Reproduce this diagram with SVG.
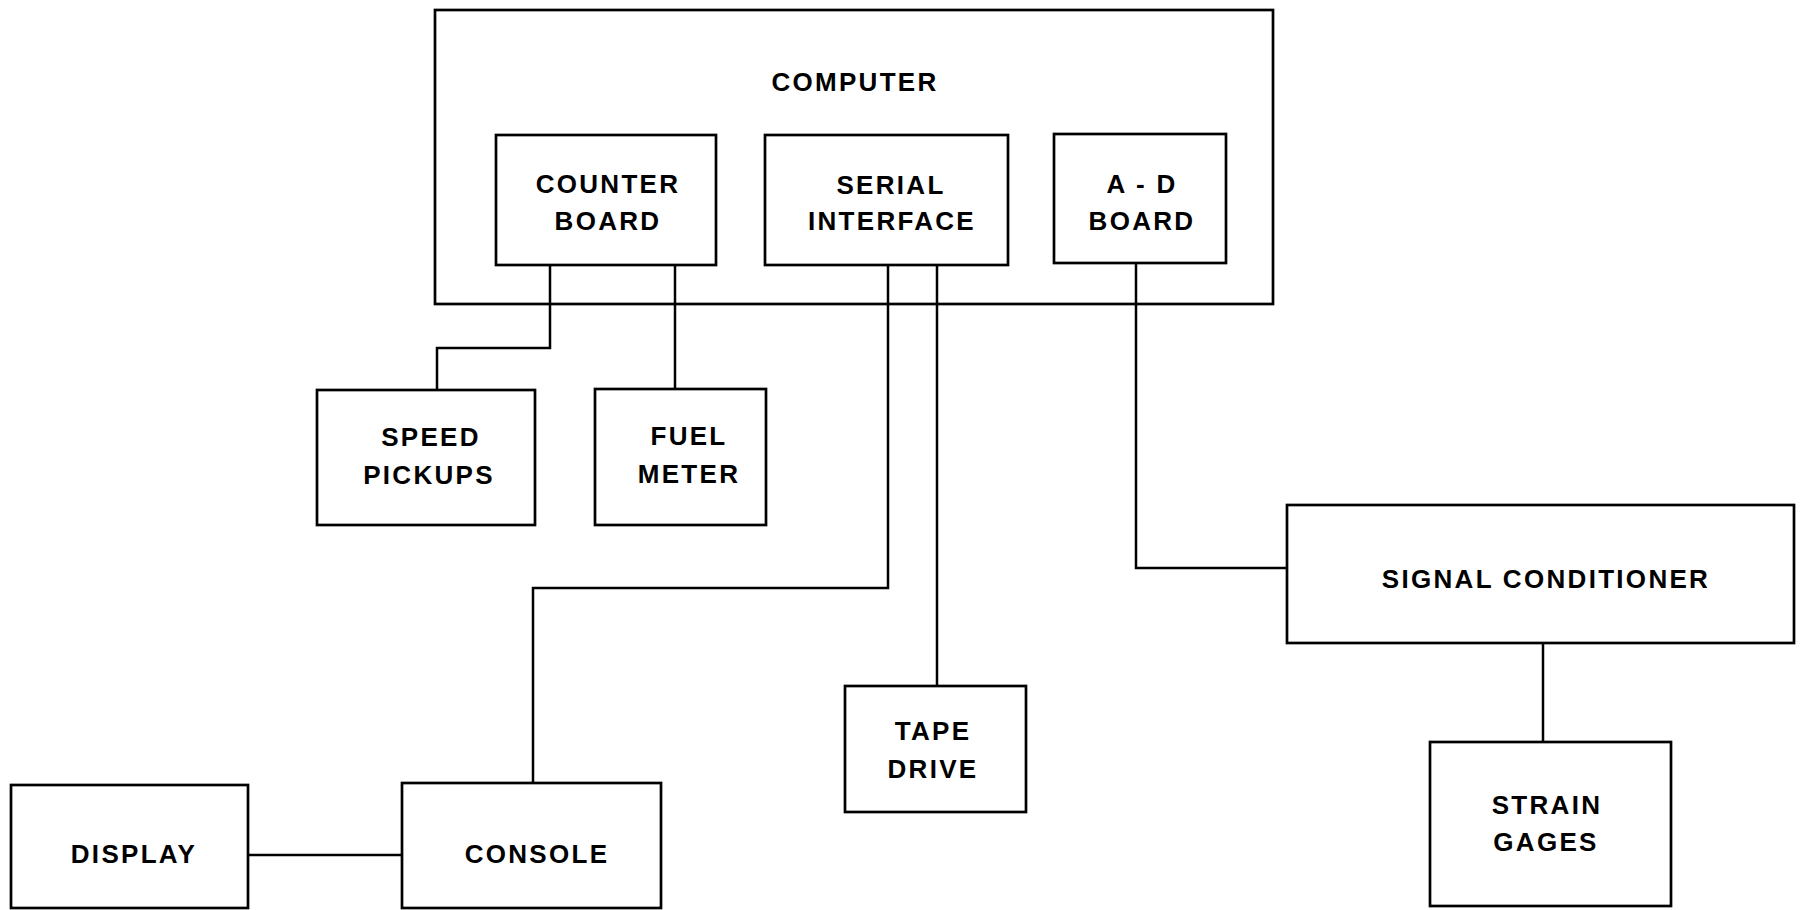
<svg xmlns="http://www.w3.org/2000/svg" width="1803" height="910" viewBox="0 0 1803 910">
<style>
.box{fill:none;stroke:#000;stroke-width:2.7}
.ln{fill:none;stroke:#000;stroke-width:2.5}
.t{font-family:"Liberation Sans",Arial,sans-serif;font-weight:bold;font-size:26px;letter-spacing:2.3px;text-anchor:middle;fill:#000}
</style>
<rect width="1803" height="910" fill="#fff"/>
<g id="connectors">
<path class="ln" d="M550,265 V348 H437 V390"/>
<path class="ln" d="M675,265 V389"/>
<path class="ln" d="M888,265 V588 H533 V783"/>
<path class="ln" d="M937,265 V686"/>
<path class="ln" d="M1136,263 V568 H1287"/>
<path class="ln" d="M1543,643 V742"/>
<path class="ln" d="M248,855 H402"/>
</g>
<g id="computer">
<rect class="box" x="435" y="10" width="838" height="294"/>
<text class="t" x="855" y="91">COMPUTER</text>
</g>
<g id="counter-board">
<rect class="box" x="496" y="135" width="220" height="130"/>
<text class="t" x="608" y="193">COUNTER</text>
<text class="t" x="608" y="230">BOARD</text>
</g>
<g id="serial-interface">
<rect class="box" x="765" y="135" width="243" height="130"/>
<text class="t" x="891" y="194">SERIAL</text>
<text class="t" x="892" y="230">INTERFACE</text>
</g>
<g id="ad-board">
<rect class="box" x="1054" y="134" width="172" height="129"/>
<text class="t" x="1142" y="193">A - D</text>
<text class="t" x="1142" y="230">BOARD</text>
</g>
<g id="speed-pickups">
<rect class="box" x="317" y="390" width="218" height="135"/>
<text class="t" x="431" y="446">SPEED</text>
<text class="t" x="429" y="484">PICKUPS</text>
</g>
<g id="fuel-meter">
<rect class="box" x="595" y="389" width="171" height="136"/>
<text class="t" x="689" y="445">FUEL</text>
<text class="t" x="689" y="483">METER</text>
</g>
<g id="display">
<rect class="box" x="11" y="785" width="237" height="123"/>
<text class="t" x="134" y="863">DISPLAY</text>
</g>
<g id="console">
<rect class="box" x="402" y="783" width="259" height="125"/>
<text class="t" x="537" y="863">CONSOLE</text>
</g>
<g id="tape-drive">
<rect class="box" x="845" y="686" width="181" height="126"/>
<text class="t" x="933" y="740">TAPE</text>
<text class="t" x="933" y="778">DRIVE</text>
</g>
<g id="signal-conditioner">
<rect class="box" x="1287" y="505" width="507" height="138"/>
<text class="t" x="1546" y="588">SIGNAL CONDITIONER</text>
</g>
<g id="strain-gages">
<rect class="box" x="1430" y="742" width="241" height="164"/>
<text class="t" x="1547" y="814">STRAIN</text>
<text class="t" x="1546" y="851">GAGES</text>
</g>
</svg>
